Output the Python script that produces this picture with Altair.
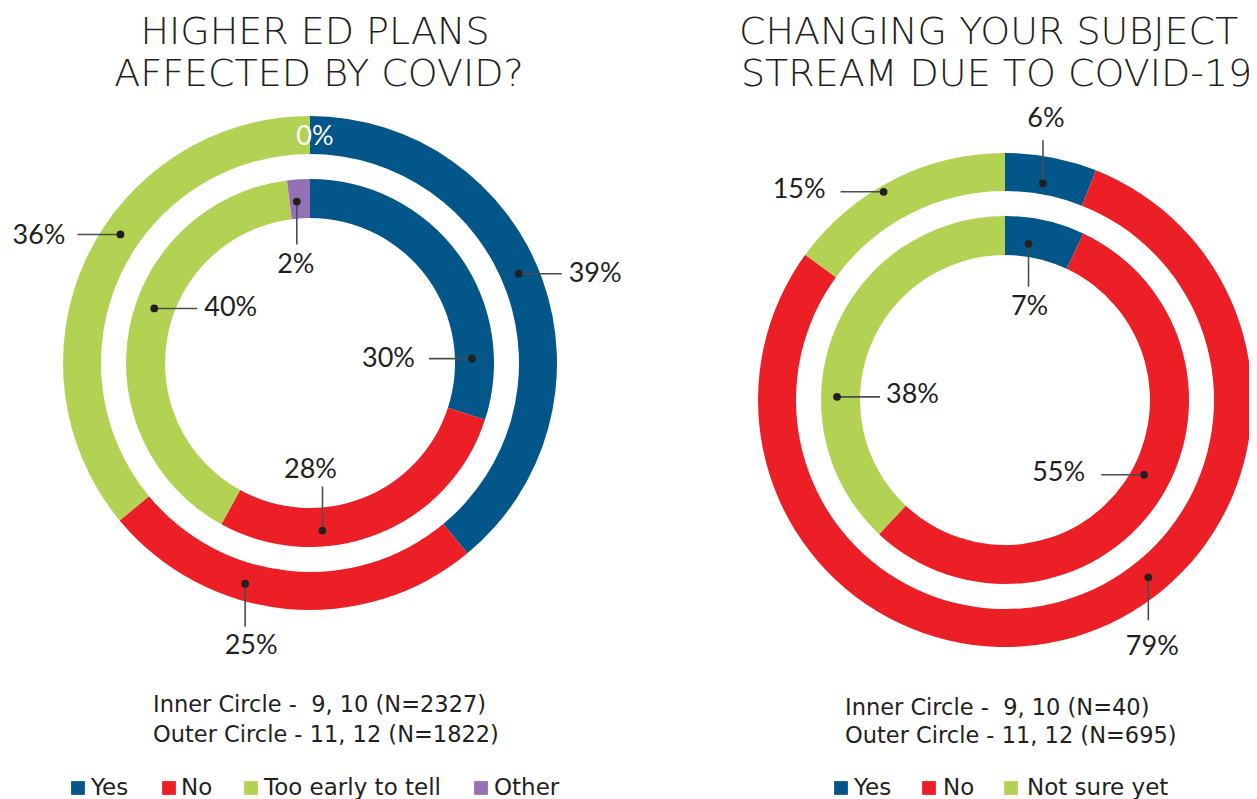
import math
import altair as alt
import pandas as pd

# ---------------- data ----------------
left_title = ["HIGHER ED PLANS", "AFFECTED BY COVID?"]
right_title = ["CHANGING YOUR SUBJECT", "STREAM DUE TO COVID-19?"]

left_categories = ["Yes", "No", "Too early to tell", "Other"]
left_inner = [30, 28, 40, 2]     # grades 9, 10
left_outer = [39, 25, 36, 0]     # grades 11, 12

right_categories = ["Yes", "No", "Not sure yet"]
right_inner = [7, 55, 38]        # grades 9, 10
right_outer = [6, 79, 15]        # grades 11, 12

left_caption = ["Inner Circle -\u00a0 9, 10 (N=2327)", "Outer Circle - 11, 12 (N=1822)"]
right_caption = ["Inner Circle -\u00a0 9, 10 (N=40)", "Outer Circle - 11, 12 (N=695)"]

# ---------------- styles / layout ----------------
color_domain = ["Yes", "No", "Too early to tell", "Not sure yet", "Other"]
color_range = ["#03568a", "#ed1f26", "#b3d254", "#b3d254", "#9471b5"]
TXT = "#231f20"
LABEL_FONT = "Lato"
TEXT_FONT = "DejaVu Sans"

W, H, M = 1241, 791, 8
XS = alt.Scale(domain=[M, M + W], nice=False, zero=False)
YS = alt.Scale(domain=[M, M + H], nice=False, zero=False, reverse=True)

centers = {"left": (310, 363), "right": (1005, 400)}
rings = {"outer": (247, 209), "inner": (184, 145)}

# label layout: (fraction along arc, dot radius, leader dx, leader dy, align, text dx, text dy, kind)
label_layout = {
    ("left", "outer", "Yes"): (0.476, 227, 43, 0, "left", 7, 0, "dot"),
    ("left", "outer", "No"): (0.622, 230, 0, 43, "center", 6, 19, "dot"),
    ("left", "outer", "Too early to tell"): (0.569, 229, -43, 0, "right", -12, 2, "dot"),
    ("left", "outer", "Other"): (0.5, 226, 0, 0, "center", 5, 0, "white"),
    ("left", "inner", "Yes"): (0.819, 162, -43, 0, "right", -14, 0, "dot"),
    ("left", "inner", "No"): (0.672, 168, 0, -44, "center", -12, -17, "dot"),
    ("left", "inner", "Too early to tell"): (0.559, 165, 43, 0, "left", 7, 0, "dot"),
    ("left", "inner", "Other"): (0.35, 162, 0, 43, "center", -1, 20, "dot"),
    ("right", "outer", "Yes"): (0.46, 220, 0, -43, "center", 3, -21, "dot"),
    ("right", "outer", "No"): (0.42, 228, 0, 43, "center", 4, 27, "dot"),
    ("right", "outer", "Not sure yet"): (0.44, 241, -43, 0, "right", -15, -2, "dot"),
    ("right", "inner", "Yes"): (0.34, 158, 0, 43, "center", 1, 20, "dot"),
    ("right", "inner", "No"): (0.47, 158, -43, 0, "right", -16, -2, "dot"),
    ("right", "inner", "Not sure yet"): (0.35, 168, 43, 0, "left", 6, -2, "dot"),
}

series = [
    ("left", "inner", left_categories, left_inner),
    ("left", "outer", left_categories, left_outer),
    ("right", "inner", right_categories, right_inner),
    ("right", "outer", right_categories, right_outer),
]

layers = []
label_rows = []
for panel, ring, cats, vals in series:
    cx, cy = centers[panel]
    r_out, r_in = rings[ring]
    df = pd.DataFrame({"category": cats, "value": vals, "ord": list(range(len(cats)))})
    layers.append(
        alt.Chart(df).mark_arc(radius=r_out, radius2=r_in).encode(
            theta=alt.Theta("value:Q", stack=True),
            color=alt.Color("category:N", scale=alt.Scale(domain=color_domain, range=color_range), legend=None),
            order=alt.Order("ord:Q"),
            x=alt.value(cx - M),
            y=alt.value(cy - M),
        )
    )
    total = float(sum(vals))
    start = 0.0
    for c, v in zip(cats, vals):
        frac, rr, lx, ly, align, tx, ty, kind = label_layout[(panel, ring, c)]
        ang = math.radians((start + frac * v) / total * 360.0)
        x = cx + rr * math.sin(ang)
        y = cy - rr * math.cos(ang)
        label_rows.append({
            "x": x, "y": y, "x2": x + lx, "y2": y + ly,
            "tx": x + lx + tx, "ty": y + ly + ty,
            "text": f"{v}%", "align": align, "kind": kind,
        })
        start += v

labels = pd.DataFrame(label_rows)
dots = labels[labels["kind"] == "dot"]

layers.append(
    alt.Chart(dots).mark_rule(color="#4d4d4d", strokeWidth=1.6).encode(
        x=alt.X("x:Q", scale=XS, axis=None), y=alt.Y("y:Q", scale=YS, axis=None),
        x2="x2:Q", y2="y2:Q",
    )
)
layers.append(
    alt.Chart(dots).mark_circle(size=60, color=TXT, opacity=1).encode(
        x=alt.X("x:Q", scale=XS, axis=None), y=alt.Y("y:Q", scale=YS, axis=None),
    )
)
for align in ["left", "center", "right"]:
    sub = labels[(labels["align"] == align) & (labels["kind"] == "dot")]
    if len(sub):
        layers.append(
            alt.Chart(sub).mark_text(align=align, baseline="middle", font=LABEL_FONT, fontSize=27, color=TXT).encode(
                x=alt.X("tx:Q", scale=XS, axis=None), y=alt.Y("ty:Q", scale=YS, axis=None), text="text:N",
            )
        )
white = labels[labels["kind"] == "white"]
layers.append(
    alt.Chart(white).mark_text(align="center", baseline="middle", font=LABEL_FONT, fontSize=27, color="white").encode(
        x=alt.X("tx:Q", scale=XS, axis=None), y=alt.Y("ty:Q", scale=YS, axis=None), text="text:N",
    )
)

# titles
titles = pd.DataFrame({
    "text": left_title + right_title,
    "x": [315, 319, 739, 741],
    "y": [33, 75, 33, 75],
    "align": ["center", "center", "left", "left"],
})
for align in ["center", "left"]:
    layers.append(
        alt.Chart(titles[titles["align"] == align]).mark_text(
            align=align, baseline="middle", font=TEXT_FONT, fontSize=38, fontWeight=200, color=TXT
        ).encode(x=alt.X("x:Q", scale=XS, axis=None), y=alt.Y("y:Q", scale=YS, axis=None), text="text:N")
    )

# captions
caps = pd.DataFrame({
    "text": left_caption + right_caption,
    "x": [153, 153, 845, 845],
    "y": [705, 735, 708, 736],
})
layers.append(
    alt.Chart(caps).mark_text(align="left", baseline="middle", font=TEXT_FONT, fontSize=22.5, color=TXT).encode(
        x=alt.X("x:Q", scale=XS, axis=None), y=alt.Y("y:Q", scale=YS, axis=None), text="text:N"
    )
)

# legends
leg = pd.DataFrame({
    "category": left_categories + right_categories,
    "x": [78, 169, 251, 481, 841, 929, 1011],
    "tx": [91, 181, 264, 494, 854, 943, 1027],
    "y": [788] * 7,
})
layers.append(
    alt.Chart(leg).mark_square(size=190, opacity=1).encode(
        x=alt.X("x:Q", scale=XS, axis=None), y=alt.Y("y:Q", scale=YS, axis=None),
        color=alt.Color("category:N", scale=alt.Scale(domain=color_domain, range=color_range), legend=None),
    )
)
layers.append(
    alt.Chart(leg).mark_text(align="left", baseline="middle", font=TEXT_FONT, fontSize=23, color=TXT).encode(
        x=alt.X("tx:Q", scale=XS, axis=None), y=alt.Y("y:Q", scale=YS, axis=None), text="category:N"
    )
)

chart = alt.layer(*layers).properties(
    width=W, height=H, autosize=alt.AutoSizeParams(type="none"), padding=0, background="white"
).configure_view(stroke=None)

chart.save("out.html", embed_options={"renderer": "svg", "actions": False})
